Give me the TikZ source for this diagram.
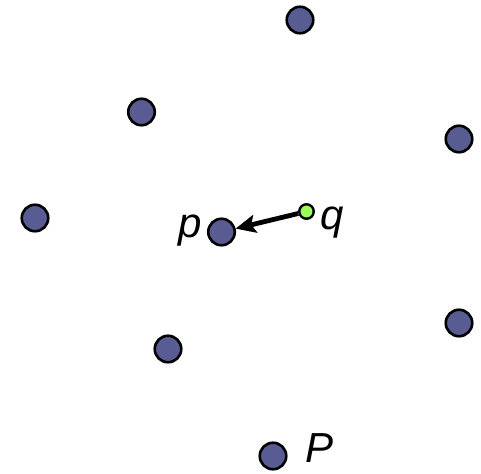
\documentclass[tikz,border=0pt]{standalone}
\usepackage{fontspec}
\setmainfont{Liberation Sans}
\usetikzlibrary{arrows.meta}
\begin{document}
\begin{tikzpicture}[x=1pt,y=-1pt,
  site/.style={circle,draw=black,line width=2.6pt,fill=dotblue,minimum size=26.5pt,inner sep=0pt},
  qpt/.style={circle,draw=black,line width=2.4pt,fill=qgreen,minimum size=14.5pt,inner sep=0pt},
  lab/.style={font=\fontsize{42}{42}\selectfont\itshape,inner sep=0pt}]
\definecolor{dotblue}{HTML}{595C92}
\definecolor{qgreen}{HTML}{9CFF5A}
\useasboundingbox (0,0) rectangle (481,473);
\node[site] (a) at (300,20) {};
\node[site] (b) at (141.5,112) {};
\node[site] (c) at (459,139) {};
\node[site] (d) at (35,218) {};
\node[site] (p) at (221.5,232) {};
\node[qpt] (q) at (306.5,211.5) {};
\node[site] (e) at (459,323) {};
\node[site] (f) at (168,349) {};
\node[site] (g) at (273,456) {};
\node[lab] (pl) at (190,231) {p};
\node[lab] (ql) at (332,223) {q};
\node[lab] (Pl) at (320,448) {P};
\draw[line width=4.8pt,-{Stealth[length=20pt,width=18pt,inset=4pt]}] (q) -- (p);
\end{tikzpicture}
\end{document}
